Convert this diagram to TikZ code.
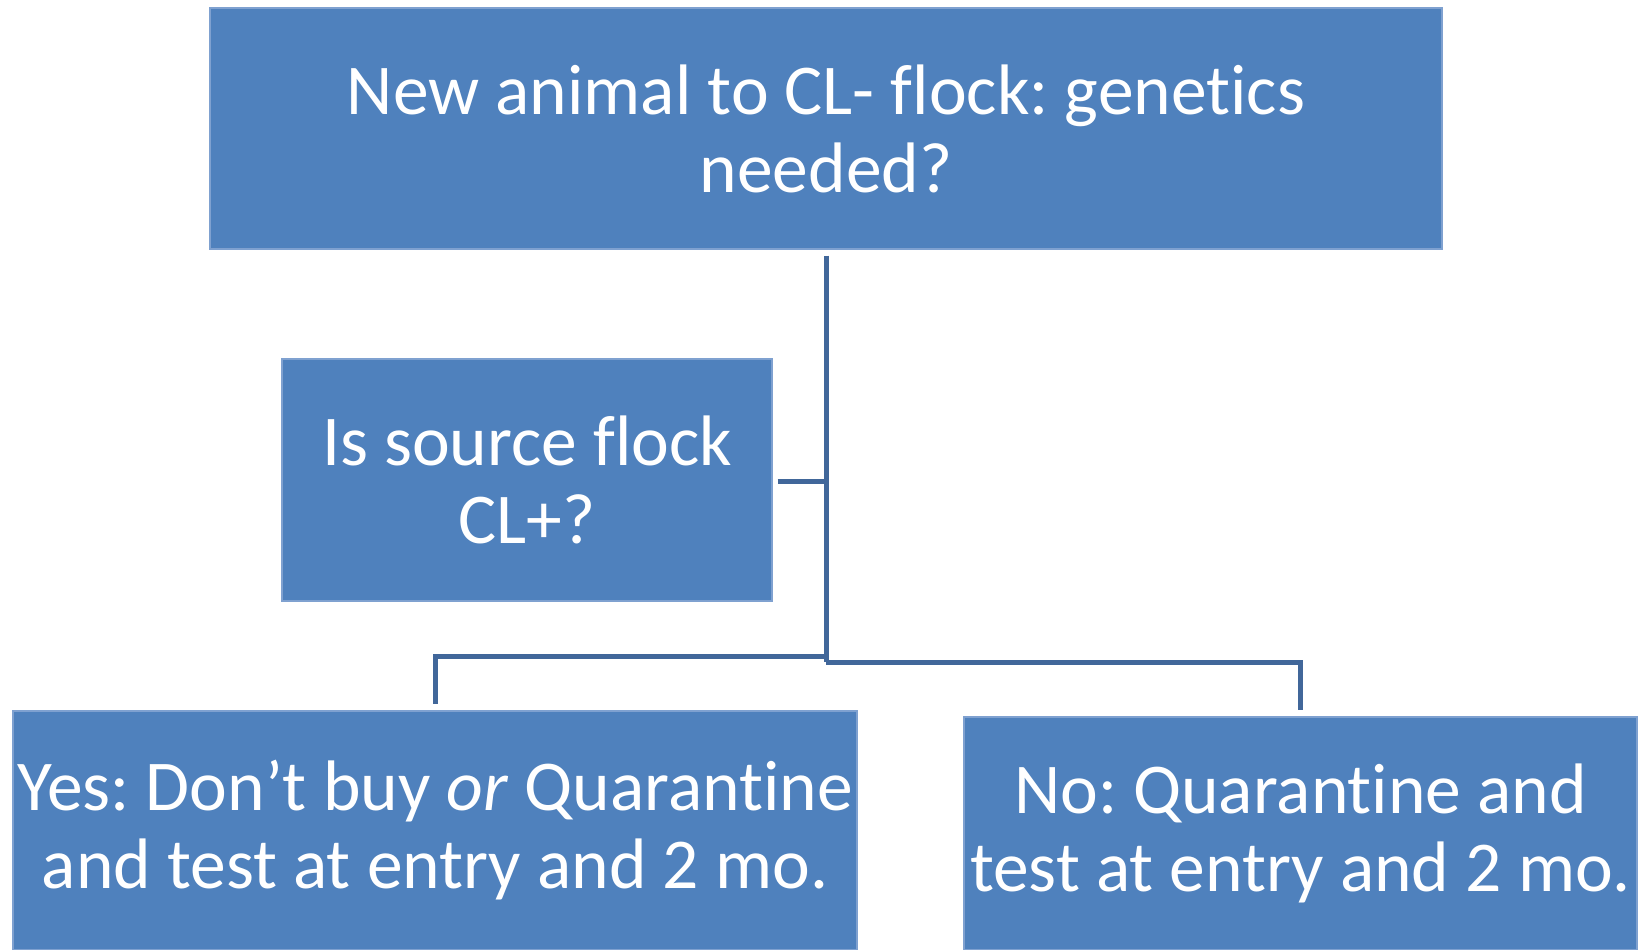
\documentclass[tikz,border=0pt]{standalone}
\usepackage{fontspec}
\setmainfont{Carlito}[Ligatures={NoCommon}]
\frenchspacing
\definecolor{boxfill}{HTML}{4F81BD}
\definecolor{boxedge}{HTML}{7FA1D0}
\definecolor{linkcol}{HTML}{41679A}
\tikzset{
  box/.style={rectangle, fill=boxfill, draw=boxedge, line width=1.2pt, text=white,
    align=center, inner sep=0pt, font=\fontsize{71.5}{78}\selectfont},
  link/.style={draw=linkcol, line width=5pt}
}
\begin{document}
\begin{tikzpicture}[x=1pt,y=-1pt]
\useasboundingbox (0,0) rectangle (1642,950);
\node[box, minimum width=1232pt, minimum height=241pt] (top) at (826,128.5)
  {New animal to CL- flock: genetics\\needed?};
\node[box, minimum width=490pt, minimum height=242pt] (mid) at (527,480)
  {Is source flock\\CL+?};
\node[box, minimum width=844pt, minimum height=239pt] (yes) at (435,830.5)
  {Yes: Don’t buy \textit{or} Quarantine\\and test at entry and 2 mo.};
\node[box, minimum width=673pt, minimum height=233pt] (no) at (1300.5,833.5)
  {No: Quarantine and\\test at entry and 2 mo.};
\coordinate (jl) at (826,656);
\coordinate (jr) at (826,662);
\coordinate (jm) at (826,481);
\draw[link, shorten <=6pt] (top.south) -- (jr);
\draw[link, shorten <=5pt] (mid.east |- jm) -- (jm);
\draw[link, shorten >=6pt] (jl) -| (yes.north);
\draw[link, shorten >=6pt] (jr) -| (no.north);
\end{tikzpicture}
\end{document}
